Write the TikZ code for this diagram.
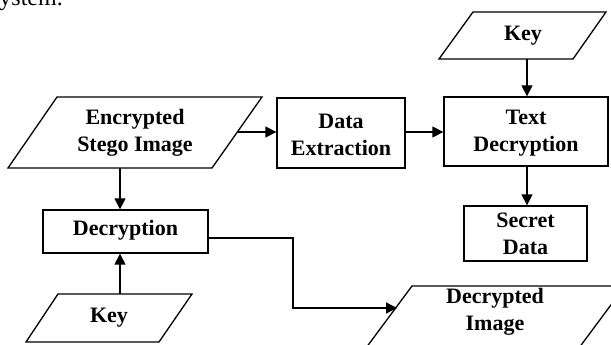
\documentclass[tikz,border=0pt]{standalone}
\usepackage{fontspec}
\setmainfont{Liberation Serif}
\usetikzlibrary{arrows.meta}
\begin{document}
\begin{tikzpicture}[x=1pt,y=-1pt,
  box/.style={draw, line width=1.3pt, fill=white, inner sep=0pt},
  lbl/.style={font=\fontsize{22}{27}\selectfont\bfseries, align=center, inner sep=0pt},
  para/.style={draw, line width=1.3pt, line join=miter},
  arr/.style={line width=1.3pt, -{Triangle[length=11pt,width=11pt]}},
  conn/.style={line width=1.3pt}]
\useasboundingbox (0,0) rectangle (611,345);

% caption fragment
\node[anchor=base east, inner sep=0pt, font=\fontsize{24}{28}\selectfont] (cap) at (63,6) {system.};

% parallelograms
\draw[para] (57,97) -- (262,97) -- (212,168) -- (8,168) -- cycle;
\node[lbl] (stego) at (135,133) {Encrypted\\Stego Image};
\coordinate (stegoR) at (237,132);
\coordinate (stegoB) at (120,168);

\draw[para] (473,12) -- (606,12) -- (573,59) -- (439,59) -- cycle;
\node[lbl] (keyT) at (523,35.5) {Key};
\coordinate (keyTb) at (527,59);

\draw[para] (58,294) -- (192,294) -- (159,342) -- (26,342) -- cycle;
\node[lbl] (keyB) at (109,318) {Key};
\coordinate (keyBt) at (120,294);

\draw[para] (412,286) -- (625,286) -- (576,352) -- (363,352) -- cycle;
\node[lbl] (dimg) at (495,312) {Decrypted\\Image};
\coordinate (dimgL) at (397,308);

% boxes
\node[box, minimum width=128pt, minimum height=70pt] (dext) at (341,133) {};
\node[lbl] (dextT) at (341,135) {Data\\Extraction};
\node[box, minimum width=164pt, minimum height=69pt] (tdec) at (526,131.5) {};
\node[lbl] (tdecT) at (526,133) {Text\\Decryption};
\node[box, minimum width=123pt, minimum height=55pt] (secret) at (525.5,233.5) {};
\node[lbl] (secretT) at (525.5,234) {Secret\\Data};
\node[box, minimum width=165pt, minimum height=43pt] (dec) at (125.5,231.5) {};
\node[lbl] (decT) at (125.5,230) {Decryption};

% connectors
\draw[arr] (stegoR) -- (stegoR -| dext.west);
\draw[arr] (dext.east |- stegoR) -- (stegoR -| tdec.west);
\draw[arr] (keyTb) -- (keyTb |- tdec.north);
\draw[arr] (keyTb |- tdec.south) -- (keyTb |- secret.north);
\draw[arr] (stegoB) -- (stegoB |- dec.north);
\draw[arr] (keyBt) -- (keyBt |- dec.south);
\coordinate (decE) at ([yshift=-6.5pt]dec.east);
\coordinate (bend) at (293,308);
\draw[arr] (decE) -| (bend) -- (dimgL);
\end{tikzpicture}
\end{document}
